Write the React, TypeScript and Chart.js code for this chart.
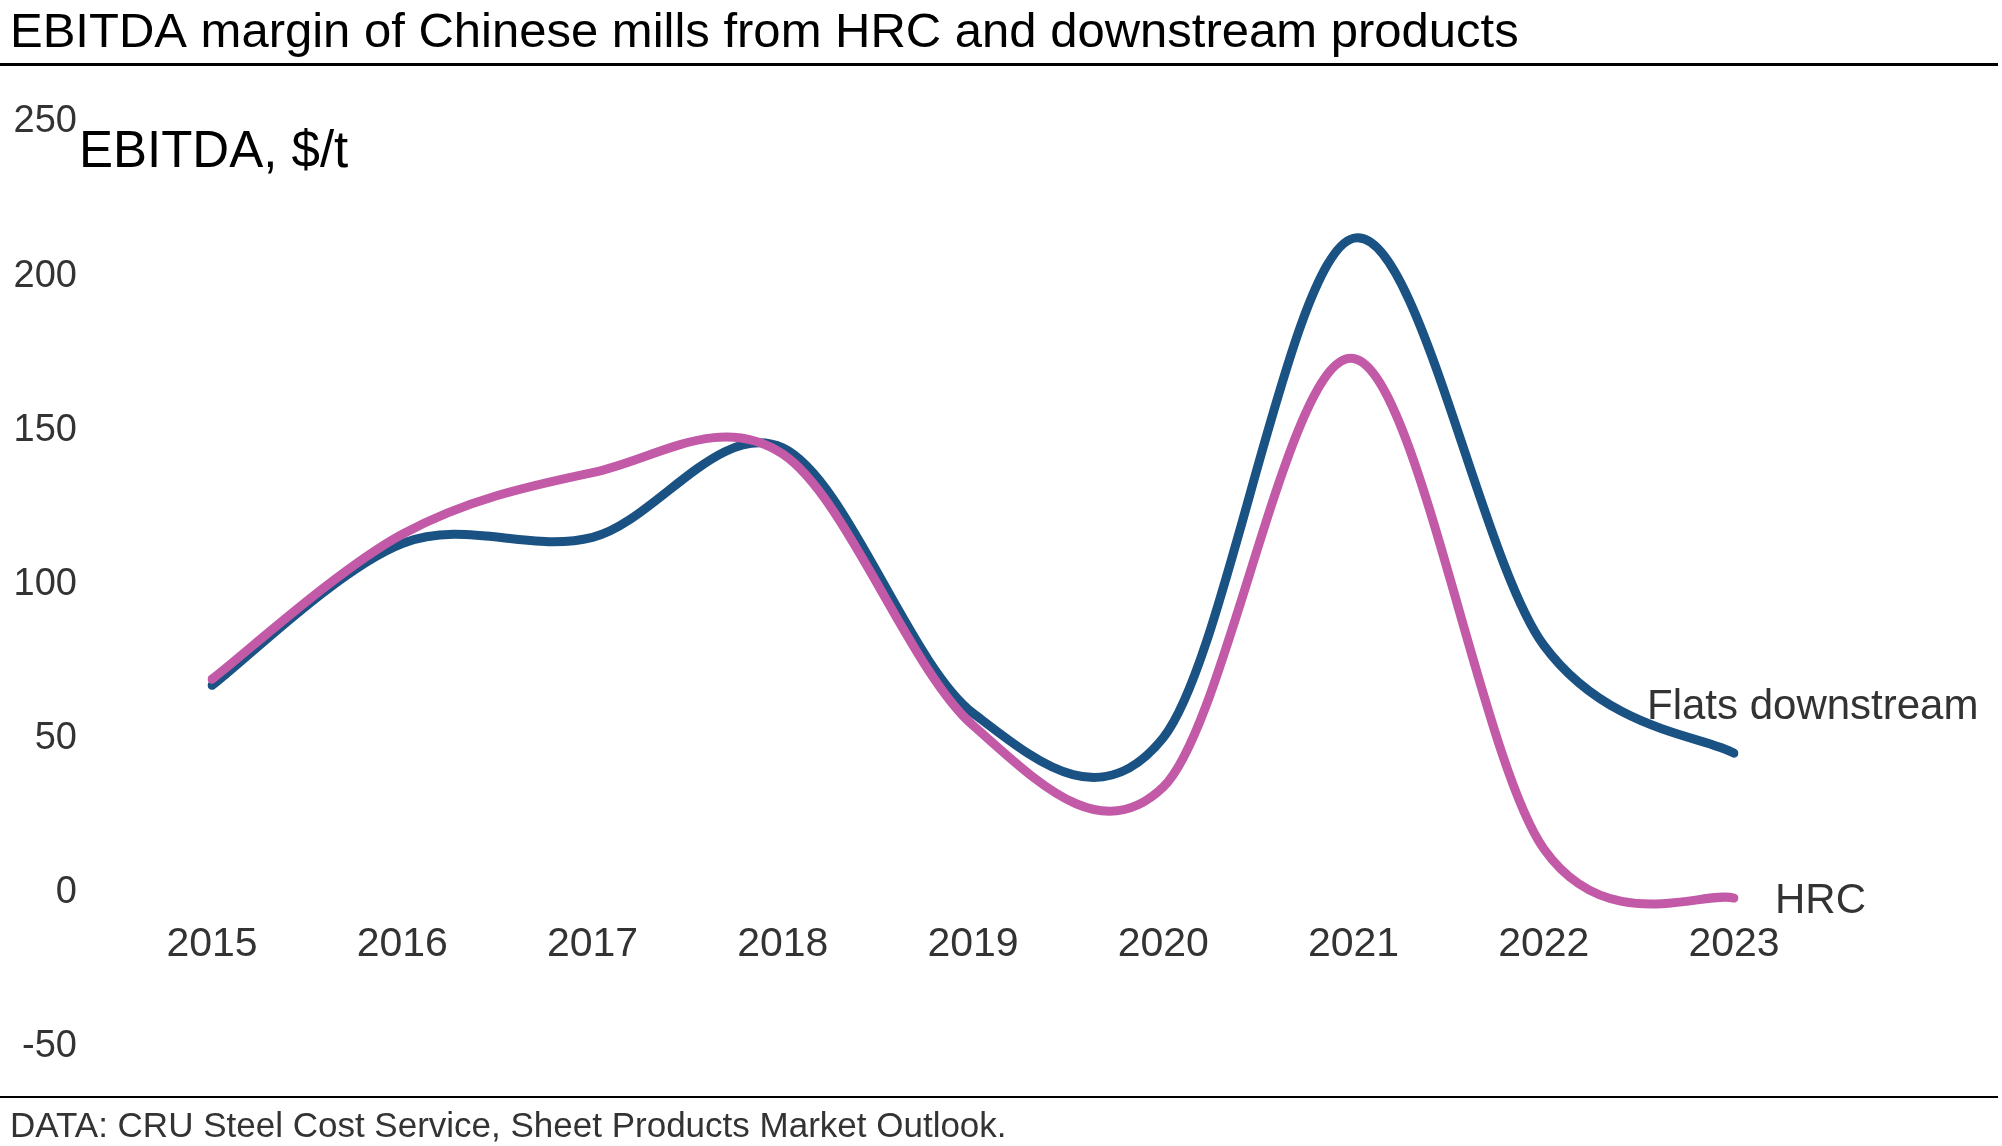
import React, { useEffect, useRef } from "react";
import { Chart, registerables } from "chart.js";

Chart.register(...registerables);

// ---- data ----
const years = ["2015", "2016", "2017", "2018", "2019", "2020", "2021", "2022", "2023"];
const flatsDownstream = [66, 112, 114, 143, 57, 49, 211, 79, 44];
const hrc = [68, 115, 135, 141, 53, 33, 172, 13, -3];
const yMin = -50;
const yMax = 250;
const yStep = 50;

const seriesNames = ["Flats downstream", "HRC"];
const titleText = "EBITDA margin of Chinese mills from HRC and downstream products";
const yTitleText = "EBITDA, $/t";
const sourceText = "DATA: CRU Steel Cost Service, Sheet Products Market Outlook.";

const BLUE = "#1a5284";
const PINK = "#c25aa8";
const FONT = '"Liberation Sans", Arial, sans-serif';

const W = 2002;
const H = 1146;

// Uniform Catmull-Rom smoothing (spreadsheet-style "smoothed line"),
// computed from the pixel positions the chart's scales gave each point.
const smoothPlugin = {
  id: "catmullRom",
  beforeDatasetDraw(chart: any, args: any) {
    const meta = args.meta;
    const line = meta && meta.dataset;
    const pts = meta && meta.data;
    if (!line || !pts || pts.length < 2) return;
    if (typeof line.updateControlPoints === "function") {
      line.updateControlPoints(chart.chartArea, meta.iScale ? meta.iScale.axis : "x");
    }
    const n = pts.length;
    for (let i = 0; i < n; i++) {
      const p = pts[i];
      const prev = pts[Math.max(0, i - 1)];
      const next = pts[Math.min(n - 1, i + 1)];
      const dx = (next.x - prev.x) / 6;
      const dy = (next.y - prev.y) / 6;
      p.cp1x = p.x - dx;
      p.cp1y = p.y - dy;
      p.cp2x = p.x + dx;
      p.cp2y = p.y + dy;
    }
    line._pointsUpdated = true;
    line._path = undefined;
  },
};

const decorPlugin = {
  id: "decor",
  afterDraw(chart: any) {
    const ctx = chart.ctx;
    ctx.save();
    ctx.textAlign = "left";
    ctx.textBaseline = "alphabetic";
    // title
    ctx.fillStyle = "#000";
    ctx.font = `49px ${FONT}`;
    ctx.fillText(titleText, 10, 47);
    ctx.fillRect(0, 63, 1998, 3);
    // y title
    ctx.font = `51px ${FONT}`;
    ctx.fillText(yTitleText, 79, 167);
    // bottom rule + source
    ctx.fillRect(0, 1096, 1998, 2);
    ctx.fillStyle = "#333";
    ctx.font = `35px ${FONT}`;
    ctx.fillText(sourceText, 10, 1137);

    // series end labels
    ctx.font = `42px ${FONT}`;
    ctx.fillStyle = "#333";
    ctx.textBaseline = "middle";
    chart.data.datasets.forEach((ds: any, i: number) => {
      const meta = chart.getDatasetMeta(i);
      const last = meta.data[meta.data.length - 1];
      if (!last) return;
      if (ds.label === seriesNames[0]) {
        ctx.fillText(ds.label, last.x - 87, last.y - 46);
      } else {
        ctx.fillText(ds.label, last.x + 41, last.y + 3);
      }
    });
    ctx.restore();
  },
};

export default function App() {
  const ref = useRef<HTMLCanvasElement | null>(null);

  useEffect(() => {
    if (!ref.current) return;
    const common = {
      borderWidth: 9,
      pointRadius: 0,
      tension: 0.4,
      borderCapStyle: "round" as const,
      borderJoinStyle: "round" as const,
      fill: false,
    };
    const chart = new Chart(ref.current, {
      type: "line",
      data: {
        labels: years,
        datasets: [
          { label: seriesNames[1], data: hrc, borderColor: PINK, ...common },
          { label: seriesNames[0], data: flatsDownstream, borderColor: BLUE, ...common },
        ],
      },
      options: {
        responsive: false,
        animation: false,
        devicePixelRatio: 1,
        events: [],
        layout: { padding: { left: 0, right: W - 1734, top: 118, bottom: H - 1043 } },
        plugins: {
          legend: { display: false },
          tooltip: { enabled: false },
          title: { display: false },
        },
        scales: {
          x: {
            type: "category",
            position: { y: 0 } as any,
            offset: false,
            grid: { display: false, drawTicks: false },
            border: { display: false },
            ticks: {
              color: "#333",
              font: { family: FONT, size: 41 },
              padding: 31,
              maxRotation: 0,
              autoSkip: false,
            },
          },
          y: {
            type: "linear",
            position: "left",
            min: yMin,
            max: yMax,
            afterFit: (s: any) => {
              s.width = 212;
              s.paddingTop = 24;
              s.paddingBottom = 24;
            },
            grid: { display: false, drawTicks: false },
            border: { display: false },
            ticks: {
              stepSize: yStep,
              color: "#333",
              font: { family: FONT, size: 38 },
              padding: 135,
              labelOffset: 4,
            },
          },
        },
      },
      plugins: [smoothPlugin, decorPlugin],
    });
    return () => chart.destroy();
  }, []);

  return (
    <div style={{ position: "fixed", left: 0, top: 0, width: W, height: H, background: "#fff" }}>
      <canvas ref={ref} width={W} height={H} style={{ width: W, height: H, display: "block" }} />
    </div>
  );
}
